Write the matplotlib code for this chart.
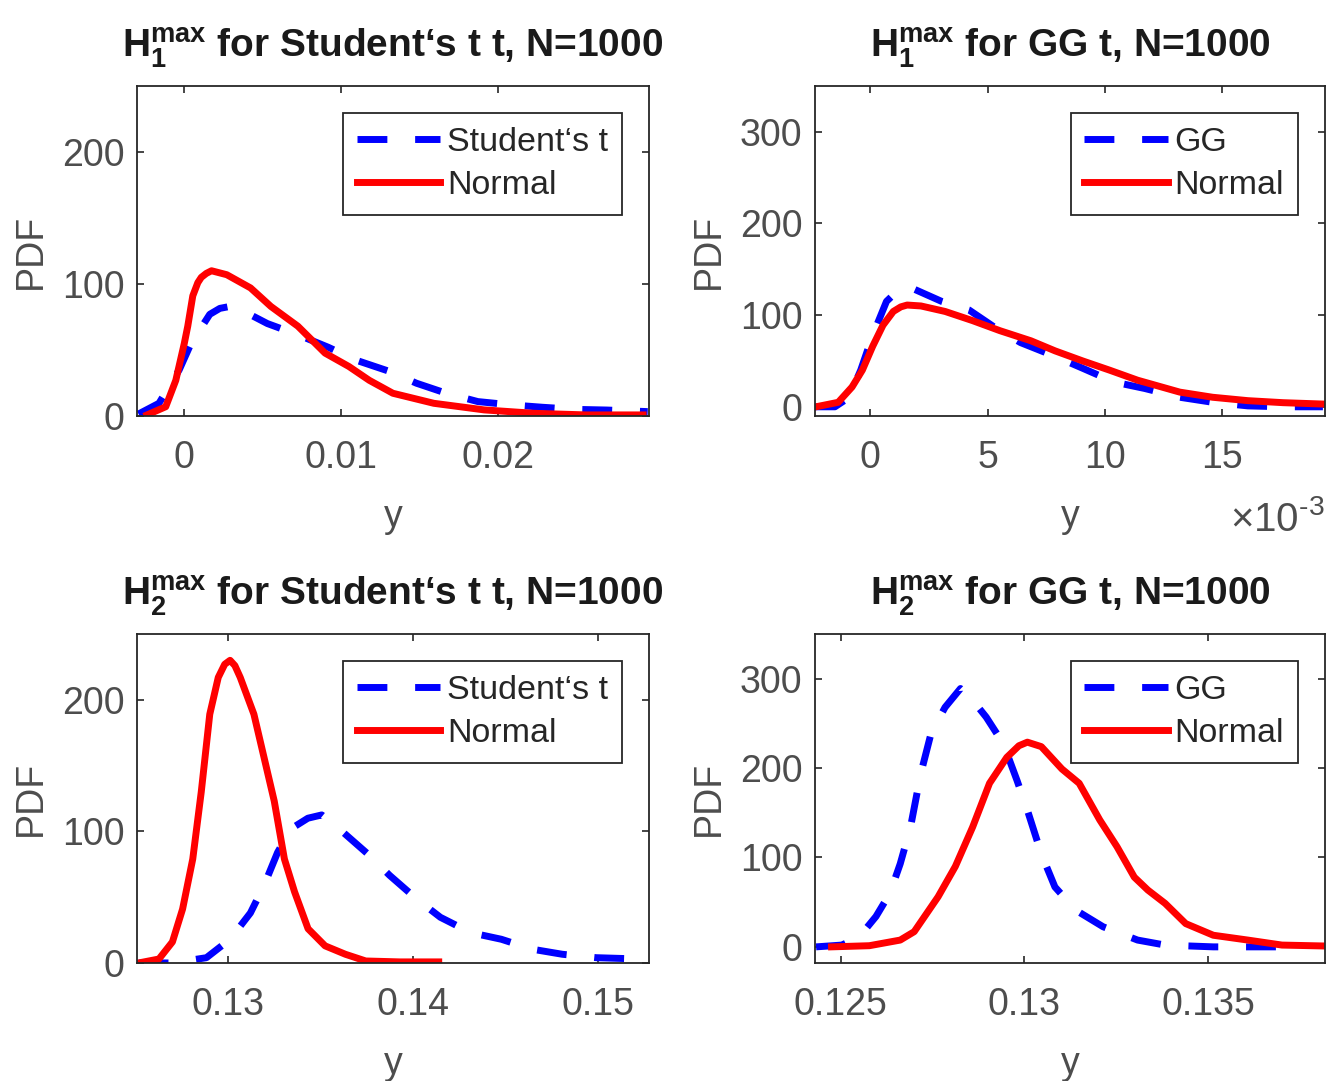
import numpy as np
import matplotlib
matplotlib.use("Agg")
import matplotlib.pyplot as plt

plt.rcParams['font.family'] = ['Liberation Sans', 'DejaVu Sans']
plt.rcParams['mathtext.fontset'] = 'custom'
plt.rcParams['mathtext.rm'] = 'Liberation Sans'
plt.rcParams['mathtext.bf'] = 'Liberation Sans:bold'
plt.rcParams['mathtext.it'] = 'Liberation Sans:italic'

# H1 max, Student's t case
st1_t_x = [-0.00287, -0.00157, -0.00028, 0.00047, 0.00166, 0.0023, 0.00295, 0.00338,
           0.00532, 0.00726, 0.0092, 0.0109, 0.0131, 0.0148, 0.0167, 0.0187, 0.0208,
           0.0228, 0.0249, 0.0269, 0.0295]
st1_t_y = [1.5, 9.6, 35, 55, 77, 81.5, 83, 82, 70, 61.5, 52, 42.5, 33.7, 24.8, 17.2,
           10.9, 8.4, 6.6, 5, 4.5, 3.3]
st1_n_x = [-0.00233, -0.00114, -0.0005, 0.00004, 0.00026, 0.00058, 0.0009, 0.00112,
           0.00144, 0.00177, 0.00274, 0.00425, 0.00554, 0.00726, 0.00899, 0.0105,
           0.0118, 0.0133, 0.0159, 0.0191, 0.0223, 0.0256, 0.0292]
st1_n_y = [0.8, 7, 27, 55, 68, 91, 101, 105, 108, 110, 107, 97, 83, 68, 47.6, 37.5, 27,
           17.2, 9.6, 4.6, 2, 0.8, 0.8]

# H1 max, GG case (x in units of 1e-3)
gg1_g_x = [-2.32, -1.51, -0.92, -0.41, 0.1, 0.69, 1.1, 1.42, 1.72, 3.04, 4.21, 5.4,
           6.41, 7.88, 9.06, 10.4, 11.7, 13.2, 14.6, 16.1, 17.6, 19.3]
gg1_g_y = [0, 0, 10, 40, 78, 115, 125, 130, 130, 115, 105.6, 85, 70, 55, 42, 27, 20,
           10.4, 4.9, 1, 0, 0]
gg1_n_x = [-2.32, -1.37, -0.78, -0.34, 0.1, 0.54, 0.98, 1.3, 1.57, 2.16, 3.19, 4.36,
           5.53, 6.85, 7.88, 9.06, 10.2, 11.4, 13.2, 14.6, 16.1, 17.6, 19.3]
gg1_n_y = [0, 4.9, 21.6, 40, 66, 89, 104, 109, 111, 110, 104, 94, 83, 72, 61, 50, 40,
           29, 16, 10.4, 6.7, 4.5, 3]

# H2 max, Student's t case
st2_t_x = [0.12514, 0.12697, 0.12881, 0.13009, 0.13119, 0.13193, 0.13266, 0.13339,
           0.13430, 0.13505, 0.13615, 0.13761, 0.13872, 0.14018, 0.14147, 0.14312,
           0.14477, 0.14642, 0.14807, 0.14991, 0.15156]
st2_t_y = [0, 0, 4, 18, 38, 59, 84, 102, 110, 112.5, 100, 82, 66.6, 48.7, 34.7, 23, 18,
           10.5, 6.6, 4, 3.3]
st2_n_x = [0.12514, 0.12624, 0.12697, 0.12752, 0.12807, 0.12853, 0.12899, 0.12945,
           0.12980, 0.13009, 0.13035, 0.13064, 0.13138, 0.13193, 0.13248, 0.13303,
           0.13358, 0.13431, 0.13523, 0.13633, 0.13743, 0.13927, 0.14138]
st2_n_y = [0, 3, 16, 41, 79, 130, 189, 217, 227, 230, 226, 217, 189, 156, 123, 79, 54,
           26, 13, 6.6, 1.5, 0.8, 0.8]

# H2 max, GG case
gg2_g_x = [0.12433, 0.12503, 0.1255, 0.12596, 0.12634, 0.12662, 0.1269, 0.12718,
           0.12746, 0.12784, 0.12826, 0.12859, 0.12896, 0.12943, 0.1298, 0.13008,
           0.13046, 0.13083, 0.1314, 0.13214, 0.13308, 0.13383, 0.13514, 0.13729]
gg2_g_y = [0, 2, 11, 34, 60, 93, 134, 194, 239, 268, 289, 276, 257, 227, 186, 153, 104,
           67, 41, 22.5, 7.6, 2, 0, 0]
gg2_n_x = [0.12475, 0.12578, 0.12662, 0.127, 0.12765, 0.12812, 0.12859, 0.12905,
           0.12952, 0.12985, 0.13008, 0.13046, 0.13102, 0.13149, 0.13205, 0.13252,
           0.13299, 0.13336, 0.13383, 0.13439, 0.13514, 0.13608, 0.13701, 0.13814]
gg2_n_y = [0, 1.3, 7.6, 17, 56, 90, 134, 183, 212, 225, 229, 224, 199, 183, 142, 112,
           78, 63.5, 48.6, 26, 13, 7.6, 2, 1]

gray = '#4d4d4d'
dark = '#262626'
fs = 27

fig = plt.figure(figsize=(13.4, 10.81), dpi=100)


def panel(pos, bx, by, nx, ny, lab, title, xlim, ylim, xt, xtl, yt):
    ax = fig.add_axes(pos)
    ax.plot(bx, by, color='b', lw=5, ls=(0, (4.3, 4.0)), dash_capstyle='butt', label=lab)
    ax.plot(nx, ny, color='r', lw=5, label='Normal')
    ax.set_xlim(xlim)
    ax.set_ylim(ylim)
    ax.set_xticks(xt)
    ax.set_xticklabels(xtl)
    ax.set_yticks(yt)
    ax.tick_params(direction='in', length=5, width=1.2, top=True, right=True,
                   labelsize=fs, colors=dark, labelcolor=gray)
    ax.tick_params(axis='x', pad=17)
    ax.tick_params(axis='y', pad=9)
    for s in ax.spines.values():
        s.set_color(dark)
        s.set_linewidth(1.3)
    ax.set_xlabel('y', fontsize=fs, color=gray, labelpad=17)
    ax.set_ylabel('PDF', fontsize=fs, color=gray, labelpad=9)
    ax.set_title(title, fontsize=28, fontweight='bold', color='#1a1a1a', pad=21)
    leg = ax.legend(loc='upper right', fontsize=24.5, handlelength=2.45, handletextpad=0.2,
                    borderaxespad=0.8, labelspacing=0.36, borderpad=0.4,
                    fancybox=False, framealpha=1)
    leg.get_frame().set_edgecolor(dark)
    leg.get_frame().set_linewidth(1.3)
    for t in leg.get_texts():
        t.set_color(dark)
    return ax


ax1 = panel([0.1022, 0.6152, 0.382, 0.3053], st1_t_x, st1_t_y, st1_n_x, st1_n_y,
            'Student‘s t', r'$\mathbf{H_1^{max}}$ for Student‘s t t, N=1000',
            (-0.00297, 0.02957), (0, 250), [0, 0.01, 0.02], ['0', '0.01', '0.02'],
            [0, 100, 200])

gx = np.array(gg1_g_x) * 1e-3
nx = np.array(gg1_n_x) * 1e-3
ax2 = panel([0.6082, 0.6152, 0.3806, 0.3053], gx, gg1_g_y, nx, gg1_n_y,
            'GG', r'$\mathbf{H_1^{max}}$ for GG t, N=1000',
            (-0.00236, 0.01939), (-10, 350), [0, 0.005, 0.01, 0.015],
            ['0', '5', '10', '15'], [0, 100, 200, 300])
ax2.text(1.0, -0.35, r'$\times\mathregular{10^{\text{-}3}}$', transform=ax2.transAxes,
         ha='right', va='baseline', fontsize=29, color=gray)

ax3 = panel([0.1022, 0.1092, 0.382, 0.3043], st2_t_x, st2_t_y, st2_n_x, st2_n_y,
            'Student‘s t', r'$\mathbf{H_2^{max}}$ for Student‘s t t, N=1000',
            (0.12505, 0.15275), (0, 250), [0.13, 0.14, 0.15], ['0.13', '0.14', '0.15'],
            [0, 100, 200])

ax4 = panel([0.6082, 0.1092, 0.3806, 0.3043], gg2_g_x, gg2_g_y, gg2_n_x, gg2_n_y,
            'GG', r'$\mathbf{H_2^{max}}$ for GG t, N=1000',
            (0.1243, 0.13818), (-18, 350), [0.125, 0.13, 0.135],
            ['0.125', '0.13', '0.135'], [0, 100, 200, 300])

fig.savefig('out.png', dpi=100)
